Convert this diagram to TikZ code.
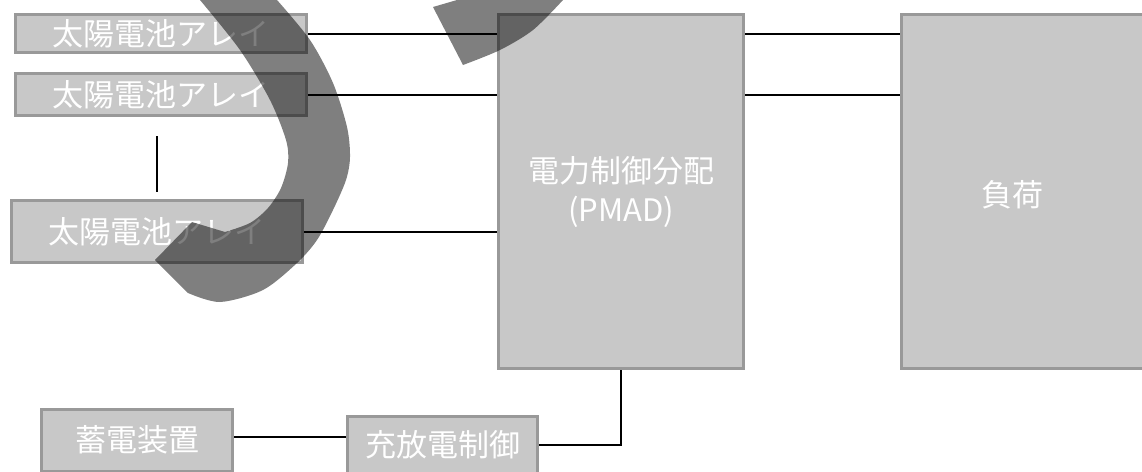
\documentclass[tikz,border=0pt]{standalone}
\usepackage{fontspec}
\newfontfamily\jp{Noto Sans CJK JP}
\definecolor{boxfill}{RGB}{200,200,200}
\definecolor{boxborder}{RGB}{153,153,153}
\begin{document}
\begin{tikzpicture}[x=1pt,y=-1pt,
  box/.style={draw=boxborder, fill=boxfill, line width=3pt, inner sep=0pt,
    text=white, align=center, font=\jp\fontsize{31}{39}\selectfont},
  txt/.style={text=white, inner sep=0pt, align=center, font=\jp\fontsize{31}{39}\selectfont},
  wire/.style={draw=black, line width=2pt},
  band/.style={fill=black, fill opacity=0.5}]
\useasboundingbox (0,0) rectangle (1142,471);
% boxes
\node[box, minimum width=291pt, minimum height=38pt] (sa1) at (161,33.5) {太陽電池アレイ};
\node[box, minimum width=291pt, minimum height=42pt] (sa2) at (161,94.5) {太陽電池アレイ};
\node[box, minimum width=291pt, minimum height=62pt] (sa3) at (157,231.5) {太陽電池アレイ};
\node[box, minimum width=245pt, minimum height=354pt] (pmad) at (621,191.5) {電力制御分配\\(PMAD)};
\node[box, minimum width=257pt, minimum height=354pt,
  label={[txt, xshift=-18pt, yshift=-3pt]center:負荷}] (load) at (1030,191.5) {};
\node[box, minimum width=191pt, minimum height=62pt] (bat) at (137,440) {蓄電装置};
\node[box, minimum width=190pt, minimum height=58pt] (chg) at (442.5,445) {充放電制御};
% connectors
\coordinate (v1) at (157,136);
\coordinate (v2) at (157,192);
\draw[wire, line width=1.5pt] (v1) -- (v2);
\draw[wire] (sa1.east) -- (sa1.east -| pmad.west);
\draw[wire] (sa2.east) -- (sa2.east -| pmad.west);
\draw[wire] (sa3.east) -- (sa3.east -| pmad.west);
\draw[wire] (pmad.east |- sa1.east) -- (load.west |- sa1.east);
\draw[wire] (pmad.east |- sa2.east) -- (load.west |- sa2.east);
\draw[wire] (bat.east |- 0,437) -- (chg.west |- 0,437);
\draw[wire] (chg.east) -- (pmad.south |- chg.east) -- (pmad.south);
% translucent overlay band
\fill[band] plot[smooth] coordinates {(200,0) (240,50) (270,100) (286,140) (288,163) (281,188) (268,208) (250,223) (225,232)}
  -- (192,222) -- (155,260) -- (188,293)
  -- plot[smooth] coordinates {(188,293) (220,302) (263,290) (297,263) (317,240) (333,210) (346,180) (350,157) (347,127) (333,83) (310,40) (277,0)}
  -- cycle;
\fill[band] (457,0) -- (433,7) -- (463,65)
  -- plot[smooth] coordinates {(463,65) (500,50) (533,30) (563,0)} -- cycle;
\end{tikzpicture}
\end{document}
